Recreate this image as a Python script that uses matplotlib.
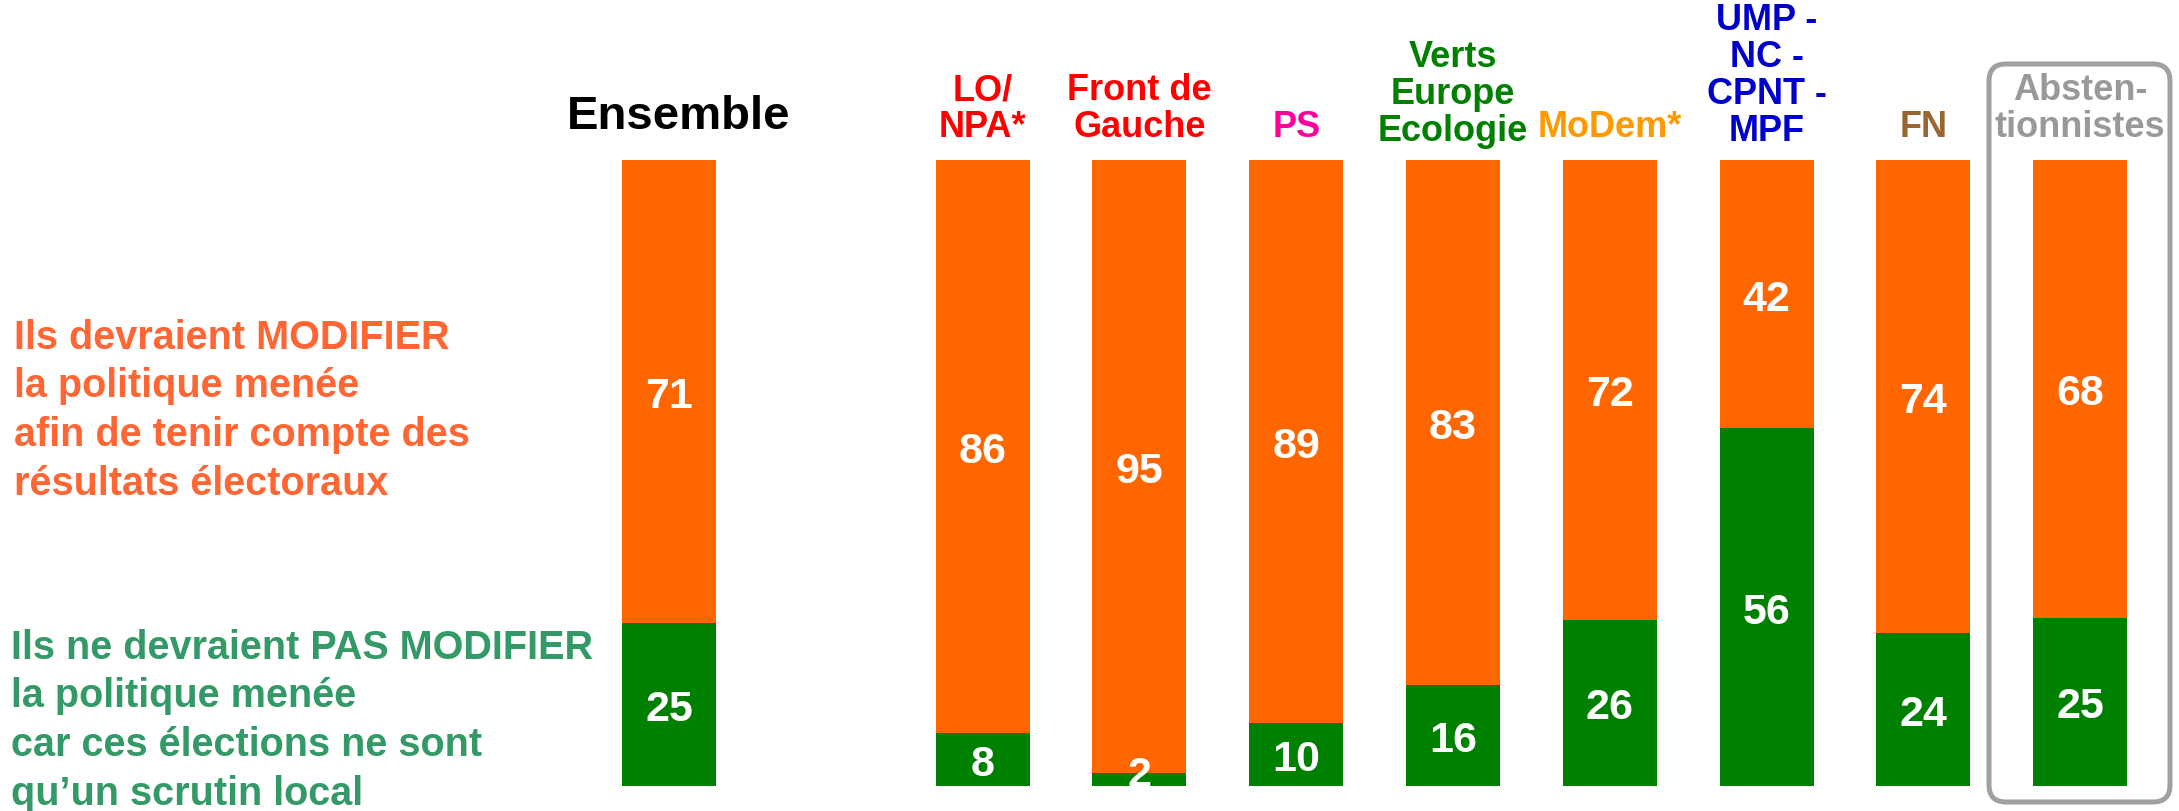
import matplotlib.pyplot as plt
from matplotlib.patches import FancyBboxPatch

plt.rcParams['font.family'] = ['Liberation Sans', 'DejaVu Sans']
plt.rcParams['font.weight'] = 'bold'

# data
groups = ['Ensemble', 'LO/\nNPA*', 'Front de\nGauche', 'PS', 'Verts\nEurope\nEcologie',
          'MoDem*', 'UMP -\nNC -\nCPNT -\nMPF', 'FN', 'Absten-\ntionnistes']
modifier = [71, 86, 95, 89, 83, 72, 42, 74, 68]
pas_modifier = [25, 8, 2, 10, 16, 26, 56, 24, 25]

# styling
positions = [0, 2, 3, 4, 5, 6, 7, 8, 9]
label_colors = ['black', '#FF0000', '#FF0000', '#FF0099', '#008000', '#FF9900',
                '#0000CC', '#996633', '#999999']
orange = '#FF6600'
green = '#008000'

fig = plt.figure(figsize=(21.79, 8.12), dpi=100)
ax = fig.add_axes([0, 25 / 812, 1, 626 / 812])
ax.set_xlim(-4.267, 9.63)
ax.set_ylim(0, 100)
ax.axis('off')

# bars are drawn as share of the answered total
for x, m, p, name, col in zip(positions, modifier, pas_modifier, groups, label_colors):
    tot = m + p
    g = p / tot * 100
    o = m / tot * 100
    ax.bar(x, g, width=0.6, color=green)
    ax.bar(x, o, bottom=g, width=0.6, color=orange)
    # keep small labels from dropping below the bar
    ax.text(x, max(g / 2, 2.5), str(p), color='white', fontsize=31, ha='center',
            va='center_baseline', clip_on=False)
    ax.text(x, g + o / 2, str(m), color='white', fontsize=31, ha='center',
            va='center_baseline')
    if name == 'Ensemble':
        ax.text(x + 0.06, 105.1, name, color=col, fontsize=34, ha='center',
                va='baseline', clip_on=False)
    else:
        yl = 102.5 if name.count('\n') < 2 else 101.9
        ax.text(x, yl, name, color=col, fontsize=26, ha='center',
                va='bottom', linespacing=1.075, multialignment='center', clip_on=False)

# left side legends (anchored on the baseline of the last line)
fig.text(14 / 2179, 1 - 495 / 812,
         'Ils devraient MODIFIER\nla politique menée\nafin de tenir compte des\nrésultats électoraux',
         color='#FF6633', fontsize=28.5, va='baseline', ha='left', linespacing=1.36)
fig.text(11 / 2179, 1 - 805 / 812,
         'Ils ne devraient PAS MODIFIER\nla politique menée\ncar ces élections ne sont\nqu\u2019un scrutin local',
         color='#339966', fontsize=28.5, va='baseline', ha='left', linespacing=1.36)

# frame around abstentionnistes
box = FancyBboxPatch((19.89, 0.09), 1.81, 7.38,
                     boxstyle='round,pad=0,rounding_size=0.17',
                     transform=fig.dpi_scale_trans, fill=False,
                     ec='#A0A0A0', lw=3.6)
fig.add_artist(box)

fig.savefig('out.png', dpi=100)
